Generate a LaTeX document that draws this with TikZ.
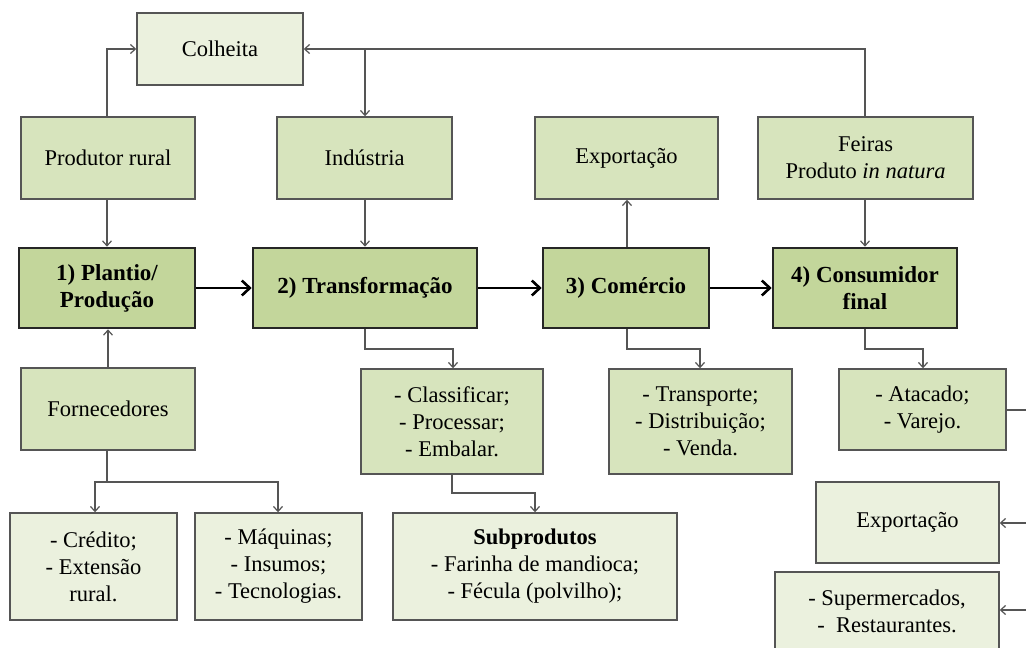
\documentclass[tikz,border=0pt]{standalone}
\usepackage{fontspec}
\setmainfont{Liberation Serif}
\usetikzlibrary{arrows.meta}
\definecolor{gmain}{HTML}{C3D69B}
\definecolor{gmid}{HTML}{D7E4BD}
\definecolor{glight}{HTML}{EBF1DE}
\definecolor{lnc}{HTML}{555555}
\tikzset{
  bx/.style={draw=lnc, line width=1.4pt, inner sep=0pt, align=center,
    font=\fontsize{22.5}{27}\selectfont},
  mainbx/.style={bx, draw=black!85, line width=2.6pt, fill=gmain, font=\fontsize{23}{27}\selectfont\bfseries},
  midbx/.style={bx, fill=gmid},
  lightbx/.style={bx, fill=glight},
  conn/.style={draw=lnc, line width=1.3pt, -{Straight Barb[length=5pt,width=9pt,line width=1.2pt]}},
  plain/.style={draw=lnc, line width=1.3pt},
  bigarr/.style={draw=black, line width=2.6pt, -{Straight Barb[length=8pt,width=15pt,line width=2.6pt]}}
}
\newcommand{\bxat}[6]{\node[#1, minimum width=#4pt, minimum height=#5pt] (#6) at (#2,#3)}
\begin{document}
\begin{tikzpicture}[x=1pt,y=-1pt]
\useasboundingbox (0,0) rectangle (1026,648);
\clip (0,0) rectangle (1026,648);
\fill[white] (0,0) rectangle (1026,648);
% top row
\bxat{lightbx}{220}{49}{166}{72}{colheita} {Colheita};
\bxat{midbx}{108}{158}{174}{82}{prod} {Produtor rural};
\bxat{midbx}{364.5}{158}{175}{82}{ind} {Indústria};
\bxat{midbx}{626.5}{158}{183}{82}{expA} {Exportação};
\bxat{midbx}{865.5}{158}{215}{82}{feiras} {Feiras\\Produto \textit{in natura}};
% main row
\bxat{mainbx}{107}{288}{176}{80}{plantio} {1) Plantio/\\Produção};
\bxat{mainbx}{365}{288}{224}{80}{transf} {2) Transformação};
\bxat{mainbx}{626}{288}{166}{80}{comer} {3) Comércio};
\bxat{mainbx}{865}{288}{184}{80}{consum} {4) Consumidor\\final};
% third row
\bxat{midbx}{108}{409}{174}{82}{forn} {Fornecedores};
\bxat{midbx}{452}{421.5}{182}{105}{class} {- Classificar;\\- Processar;\\- Embalar.};
\bxat{midbx}{700.5}{421.5}{183}{105}{transp} {- Transporte;\\- Distribuição;\\- Venda.};
\bxat{midbx}{922.5}{409.5}{167}{81}{atac} {- Atacado;\\- Varejo.};
% bottom row
\bxat{lightbx}{93.5}{566.5}{167}{107}{cred} {- Crédito;\\- Extensão\\rural.};
\bxat{lightbx}{278.5}{566.5}{167}{107}{maq} {- Máquinas;\\- Insumos;\\- Tecnologias.};
\bxat{lightbx}{535}{566.5}{284}{107}{subp} {\textbf{Subprodutos}\\- Farinha de mandioca;\\- Fécula (polvilho);};
\bxat{lightbx}{907.5}{522.5}{183}{81}{expB} {Exportação};
\bxat{lightbx}{887}{611.5}{224}{79}{super} {- Supermercados,\\-~~Restaurantes.};
% coordinates
\coordinate (topL) at (107,49);
\coordinate (topR) at (865,49);
\coordinate (topI) at (365,49);
\coordinate (fb) at (107,482);
\coordinate (fbL) at (95,482);
\coordinate (fbR) at (278,482);
\coordinate (t1) at (365,349);
\coordinate (t2) at (453,349);
\coordinate (c1) at (452,493);
\coordinate (c2) at (535,493);
\coordinate (m1) at (627,349);
\coordinate (m2) at (700,349);
\coordinate (k1) at (865,349);
\coordinate (k2) at (923,349);
\coordinate (r1) at (1040,410);
\coordinate (r2) at (1040,523);
\coordinate (r3) at (1040,610);
% top connectors
\draw[conn] (prod.north -| topL) -- (topL) -- (colheita.west |- topL);
\draw[conn] (feiras.north -| topR) -- (topR) -- (colheita.east |- topR);
\draw[conn] (topI) -- (ind.north -| topI);
\draw[conn] (prod.south -| plantio) -- (plantio.north);
\draw[conn] (ind.south -| topI) -- (transf.north -| topI);
\draw[conn] (comer.north -| m1) -- (expA.south -| m1);
\draw[conn] (feiras.south -| topR) -- (consum.north -| topR);
\draw[conn] (forn.north) -- (plantio.south -| forn.north);
% main arrows
\draw[bigarr] (plantio) -- (transf);
\draw[bigarr] (transf) -- (comer);
\draw[bigarr] (comer) -- (consum);
% lower connectors
\draw[plain] (forn.south -| fb) -- (fb);
\draw[conn] (fb) -- (fbL) -- (cred.north -| fbL);
\draw[conn] (fb) -- (fbR) -- (maq.north -| fbR);
\draw[conn] (transf.south -| t1) -- (t1) -- (t2) -- (class.north -| t2);
\draw[conn] (class.south -| c1) -- (c1) -- (c2) -- (subp.north -| c2);
\draw[conn] (comer.south -| m1) -- (m1) -- (m2) -- (transp.north -| m2);
\draw[conn] (consum.south -| k1) -- (k1) -- (k2) -- (atac.north -| k2);
\draw[plain] (atac.east |- r1) -- (r1) -- (r3);
\draw[conn] (r2) -- (expB.east |- r2);
\draw[conn] (r3) -- (super.east |- r3);
\end{tikzpicture}
\end{document}
